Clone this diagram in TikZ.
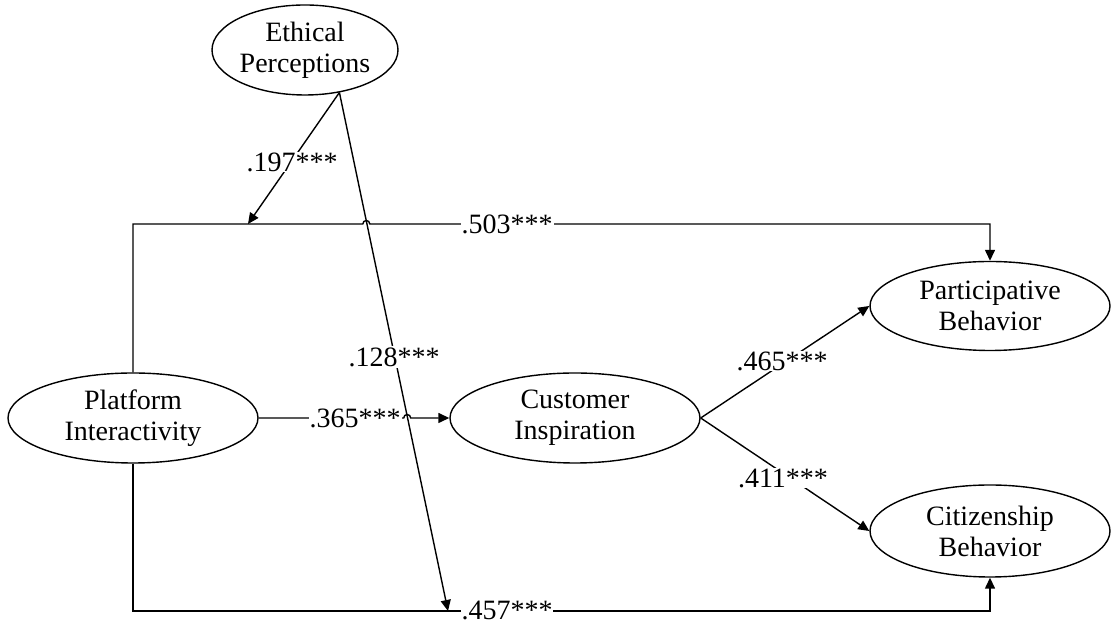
\documentclass[tikz,border=0pt]{standalone}
\usepackage{fontspec}
\setmainfont{Liberation Serif}
\usetikzlibrary{arrows.meta,shapes.geometric}
\begin{document}
\begin{tikzpicture}[x=1pt,y=1pt,
  every node/.style={font=\fontsize{28}{31}\selectfont},
  latent/.style={draw,ellipse,line width=1.4pt,inner sep=0pt,align=center},
  arr/.style={line width=1.4pt,-{Triangle[length=11pt,width=10pt]}},
  coef/.style={fill=white,inner sep=1pt}]
\useasboundingbox (0,0) rectangle (1111,623);
\node[latent,minimum width=186pt,minimum height=90pt] (EP) at (305,573) {Ethical\\Perceptions};
\node[latent,minimum width=250pt,minimum height=90pt] (PI) at (133,205) {Platform\\Interactivity};
\node[latent,minimum width=250pt,minimum height=90pt] (CI) at (575,205) {Customer\\Inspiration};
\node[latent,minimum width=240pt,minimum height=89pt] (PB) at (990,317) {Participative\\Behavior};
\node[latent,minimum width=240pt,minimum height=92pt] (CB) at (990,92) {Citizenship\\Behavior};
\coordinate (EPs) at (EP.-51.5);
\coordinate (t457) at (448,12);
\coordinate (a197) at (248,399);
% top path with jump
\draw[arr] (PI.north) -- (133,399) -- (362.8,399) arc[start angle=180,end angle=0,radius=3.5pt] -- (PB.north|-0,399) -- (PB.north);
\node[coef] (l503) at (507,399) {.503***};
% bottom path
\draw[arr] (PI.south) -- (133,12) -- (CB.south|-0,12) -- (CB.south);
% diagonal from EP to bottom line
\draw[arr] (EPs) -- (t457);
\node[coef,text depth=0pt,inner sep=0.5pt] (l457) at (507,13) {.457***};
\node[coef] (l128) at (394,266) {.128***};
% moderation arrow
\draw[arr] (EPs) -- (a197);
\node[coef] (l197) at (292,461) {.197***};
% PI -> CI with jump
\draw[arr] (PI.east) -- (403.7,205) arc[start angle=180,end angle=0,radius=3.5pt] -- (CI.west);
\node[coef] (l365) at (355,205) {.365***};
% CI -> PB, CB
\draw[arr] (CI.east) -- (PB.west);
\node[coef] (l465) at (782,262) {.465***};
\draw[arr] (CI.east) -- (CB.west);
\node[coef] (l411) at (783,145) {.411***};
\end{tikzpicture}
\end{document}
